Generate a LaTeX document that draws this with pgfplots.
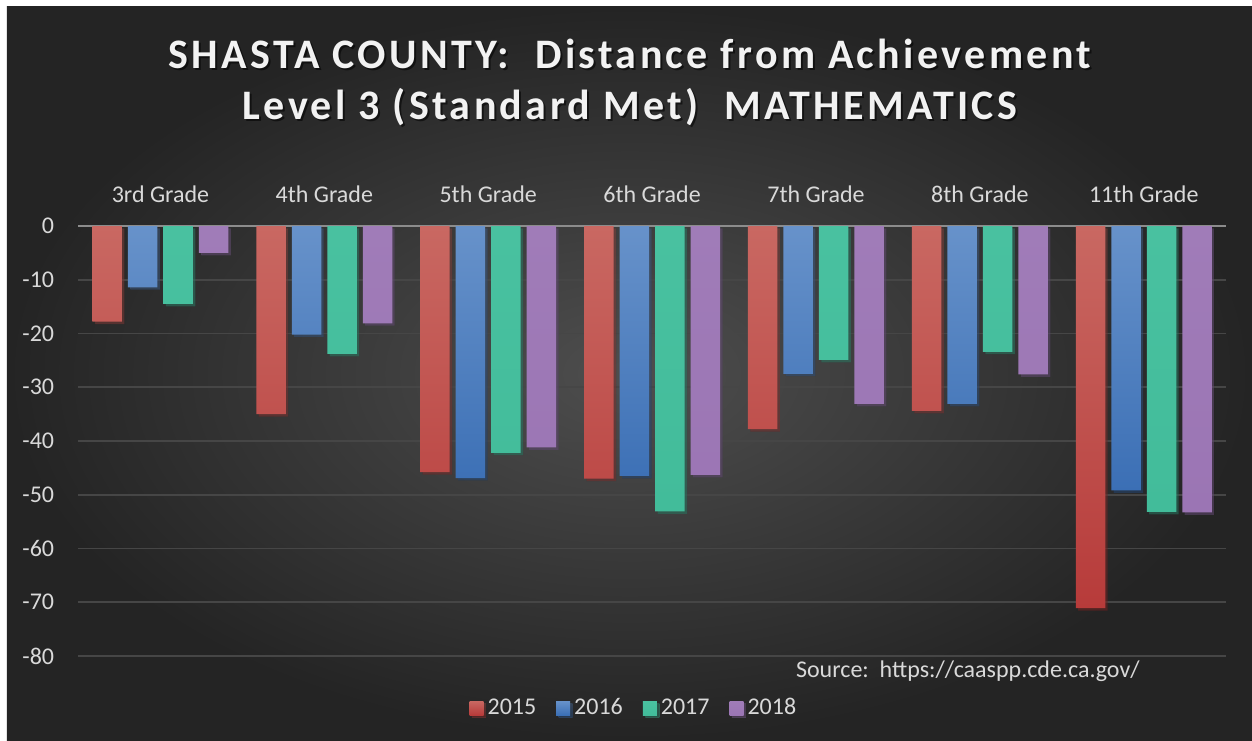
\documentclass[border=0pt]{standalone}
\usepackage{fontspec}
\setmainfont{Carlito}
\newfontfamily\titlefont[LetterSpace=8]{Carlito}
\usepackage{pgfplots}
\pgfplotsset{compat=1.18}
\usetikzlibrary{shadows}
\pgfdeclarelayer{background}
\pgfsetlayers{background,main}

\definecolor{bgin}{HTML}{4E4E4E}
\definecolor{bgout}{HTML}{242424}
\definecolor{gridc}{HTML}{464646}
\definecolor{zeroc}{HTML}{8C8C8C}
\definecolor{txt}{HTML}{D9D9D9}
\definecolor{redT}{HTML}{C96862}
\definecolor{redB}{HTML}{B73B3A}
\definecolor{bluT}{HTML}{6792CA}
\definecolor{bluB}{HTML}{3B6FB5}
\definecolor{grnT}{HTML}{49C1A0}
\definecolor{grnB}{HTML}{42BC9A}
\definecolor{purT}{HTML}{A07CB8}
\definecolor{purB}{HTML}{9B75B4}

\tikzset{barshadow/.style={drop shadow={shadow xshift=1.2pt, shadow yshift=-1.2pt, opacity=0.35, fill=black}}}

\begin{document}
\begin{tikzpicture}
\begin{axis}[
  name=ax,
  scale only axis, width=573.6pt, height=215pt,
  ybar=3pt, bar width=14.75pt,
  xmin=-0.5, xmax=6.5, ymin=-80, ymax=0,
  axis line style={draw=none},
  major tick length=0pt,
  xtick={0,...,6},
  xticklabels={3rd Grade,4th Grade,5th Grade,6th Grade,7th Grade,8th Grade,11th Grade},
  xticklabel pos=upper,
  xticklabel style={anchor=base, inner sep=0pt, yshift=12pt, text=txt, font=\fontsize{12}{14}\selectfont},
  ytick={-80,-70,...,-10},
  yticklabels={-80,-70,-60,-50,-40,-30,-20,-10},
  extra y ticks={0}, extra y tick labels={0},
  extra y tick style={grid style={color=zeroc, line width=1.2pt}},
  yticklabel style={anchor=east, inner sep=0pt, xshift=-12pt, text=txt, font=\fontsize{12}{14}\selectfont},
  ymajorgrids, grid style={color=gridc, line width=0.9pt},
  legend columns=4,
  legend style={at={(0.485,-0.121)}, anchor=center, draw=none, fill=none,
    text=txt, font=\fontsize{12}{14}\selectfont,
    /tikz/every even column/.append style={column sep=8pt}},
  legend image code/.code={\fill[#1,draw=none] (0pt,-3.5pt) rectangle (7pt,3.5pt);},
]
\addplot[draw=none, top color=redT, bottom color=redB, barshadow] coordinates
  {(0,-17.8) (1,-35.0) (2,-45.8) (3,-47.0) (4,-37.8) (5,-34.4) (6,-71.1)};
\addplot[draw=none, top color=bluT, bottom color=bluB, barshadow] coordinates
  {(0,-11.4) (1,-20.2) (2,-46.9) (3,-46.5) (4,-27.5) (5,-33.1) (6,-49.2)};
\addplot[draw=none, top color=grnT, bottom color=grnB, barshadow] coordinates
  {(0,-14.5) (1,-23.8) (2,-42.2) (3,-53.1) (4,-24.9) (5,-23.4) (6,-53.2)};
\addplot[draw=none, top color=purT, bottom color=purB, barshadow] coordinates
  {(0,-5.0) (1,-18.1) (2,-41.2) (3,-46.3) (4,-33.1) (5,-27.6) (6,-53.3)};
\legend{2015,2016,2017,2018}
\end{axis}

% everything else is placed relative to the plot box's lower left corner
\begin{scope}[shift={(ax.south west)}, x=1pt, y=1pt]
\begin{pgfonlayer}{background}
\fill[white] (-39.25,328) rectangle (586.75,-42);
\shade[inner color=bgin, outer color=bgout] (-35.75,324.5) rectangle (586.75,-42);
\end{pgfonlayer}
\foreach \dx/\dy/\c/\o in {1/-1/black/0.55, 0/0/white!95!black/1} {
  \node[anchor=base, text=\c, opacity=\o] at (275.75+\dx,293.5+\dy)
    {\titlefont\bfseries\fontsize{21}{25}\selectfont SHASTA COUNTY:\ \ Distance from Achievement};
  \node[anchor=base, text=\c, opacity=\o] at (275.75+\dx,268+\dy)
    {\titlefont\bfseries\fontsize{21}{25}\selectfont Level 3 (Standard Met)\ \ MATHEMATICS};
}
\node[anchor=base west, text=txt, font=\fontsize{12}{14}\selectfont] at (355.25,-10.5)
  {Source:\ \ https://caaspp.cde.ca.gov/};
\end{scope}
\end{tikzpicture}
\end{document}
